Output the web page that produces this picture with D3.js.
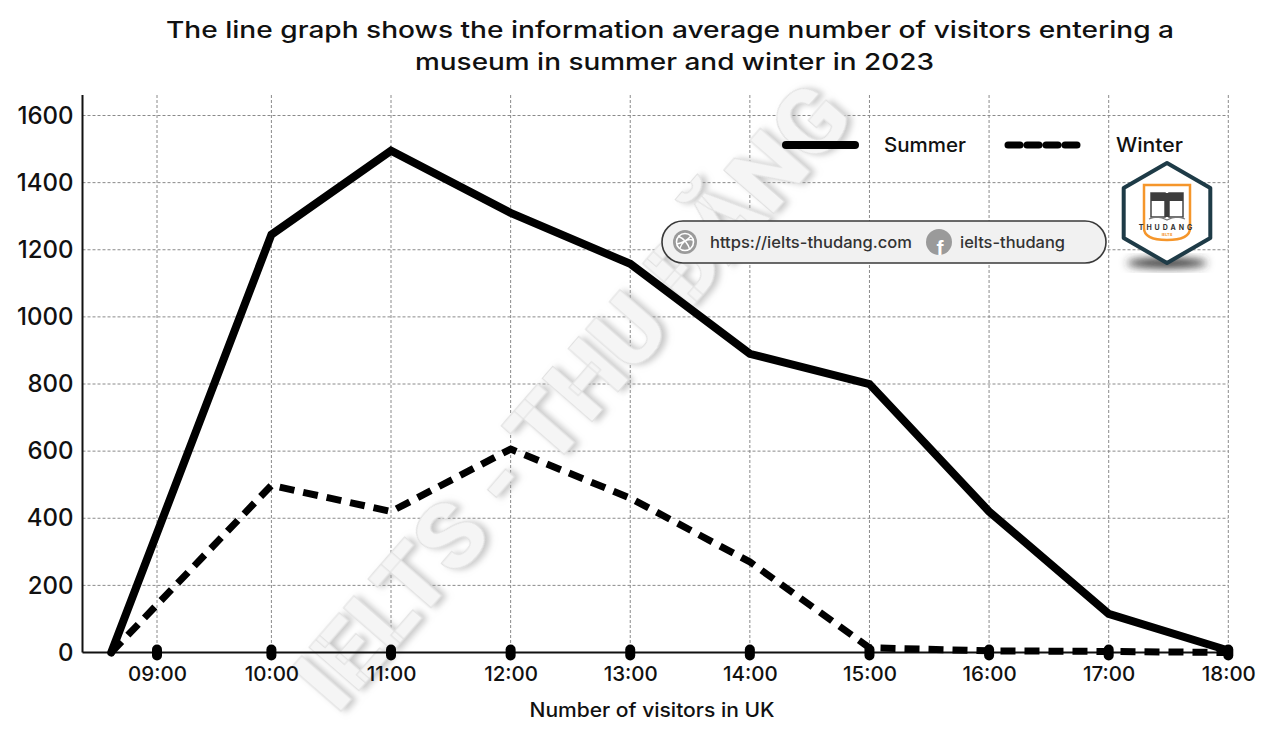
<!DOCTYPE html>
<html>
<head>
<meta charset="utf-8">
<script src="https://cdn.jsdelivr.net/npm/d3@7"></script>
<style>
  html, body { margin: 0; padding: 0; background: #fff; }
  svg { display: block; font-family: "Inter", "Open Sans", sans-serif; }
</style>
</head>
<body>
<svg id="chart" width="1267" height="750"></svg>
<script>
// ---- data ----
const titleLines = [
  "The line graph shows the information average number of visitors entering a",
  "museum in summer and winter in 2023"
];
const hours = [8.6, 10, 11, 12, 13, 14, 15, 16, 17, 18];
const summer = [0, 1245, 1495, 1310, 1158, 890, 800, 420, 115, 6];
const winter = [0, 498, 420, 606, 460, 270, 14, 5, 3, 0];
const tickHours = [9, 10, 11, 12, 13, 14, 15, 16, 17, 18];
const tickLabels = ["09:00", "10:00", "11:00", "12:00", "13:00", "14:00", "15:00", "16:00", "17:00", "18:00"];
const yTicks = [0, 200, 400, 600, 800, 1000, 1200, 1400, 1600];
const seriesNames = ["Summer", "Winter"];
const xTitle = "Number of visitors in UK";
const watermark = "IELTS - THU ĐĂNG";
const siteText = "https://ielts-thudang.com";
const fbText = "ielts-thudang";

// ---- layout ----
const svg = d3.select("#chart");
const x = d3.scaleLinear().domain([9, 10, 18]).range([157, 271.4, 1228.3]);
const y = d3.scaleLinear().domain([0, 1600]).range([652.5, 115.5]);
const plotLeft = 82.5, plotRight = 1228.3, plotTop = 95;

// filters
const defs = svg.append("defs");
const f = defs.append("filter").attr("id", "wm").attr("x", "-20%").attr("y", "-20%").attr("width", "140%").attr("height", "140%");
f.append("feDropShadow").attr("dx", 3).attr("dy", 4).attr("stdDeviation", 3).attr("flood-color", "#9a9a9a").attr("flood-opacity", 0.55);
const f2 = defs.append("filter").attr("id", "lg").attr("x", "-50%").attr("y", "-50%").attr("width", "200%").attr("height", "200%");
f2.append("feGaussianBlur").attr("stdDeviation", 4);

// title
svg.append("g").selectAll("text").data(titleLines).join("text")
  .attr("x", (d, i) => i === 0 ? 670 : 674.5)
  .attr("y", (d, i) => 38 + i * 32)
  .attr("text-anchor", "middle")
  .attr("font-size", 23).attr("font-weight", 500).attr("fill", "#111")
  .attr("textLength", (d, i) => i === 0 ? 1008 : 519)
  .attr("lengthAdjust", "spacingAndGlyphs")
  .text(d => d);

// grid
const grid = svg.append("g");
grid.selectAll("line.h").data(yTicks.filter(v => v > 0)).join("line")
  .attr("x1", plotLeft).attr("x2", plotRight)
  .attr("y1", d => y(d)).attr("y2", d => y(d))
  .attr("stroke", "#8a8a8a").attr("stroke-width", 1).attr("stroke-dasharray", "3,2");
grid.selectAll("line.v").data(tickHours).join("line")
  .attr("x1", d => x(d)).attr("x2", d => x(d))
  .attr("y1", plotTop).attr("y2", y(0))
  .attr("stroke", "#8a8a8a").attr("stroke-width", 1).attr("stroke-dasharray", "3,2");

// watermark
svg.append("text")
  .attr("transform", "translate(578,402) rotate(-49)")
  .attr("text-anchor", "middle").attr("dominant-baseline", "middle")
  .attr("font-family", "Roboto, 'Open Sans', sans-serif")
  .attr("font-size", 92).attr("font-weight", 900)
  .attr("fill", "#f5f5f5").attr("stroke", "#e0e0e0").attr("stroke-width", 1)
  .attr("filter", "url(#wm)")
  .attr("textLength", 790).attr("lengthAdjust", "spacingAndGlyphs")
  .text(watermark);

// axes
svg.append("line").attr("x1", plotLeft).attr("x2", plotLeft).attr("y1", plotTop).attr("y2", y(0))
  .attr("stroke", "#111").attr("stroke-width", 2);
svg.append("line").attr("x1", plotLeft).attr("x2", plotRight).attr("y1", y(0)).attr("y2", y(0))
  .attr("stroke", "#111").attr("stroke-width", 2);

const yAxis = d3.axisLeft(y).tickValues(yTicks).tickSize(0).tickPadding(9).tickFormat(d3.format("d"));
const gy = svg.append("g").attr("transform", `translate(${plotLeft},0)`).call(yAxis);
gy.select(".domain").remove();
gy.selectAll("text").attr("font-size", 24).attr("font-weight", 500).attr("fill", "#111")
  .attr("font-family", "Inter, sans-serif");

const xAxis = d3.axisBottom(x).tickValues(tickHours).tickSize(0).tickPadding(14)
  .tickFormat((d, i) => tickLabels[i]);
const gx = svg.append("g").attr("transform", `translate(0,${y(0)})`).call(xAxis);
gx.select(".domain").remove();
gx.selectAll("text").attr("font-size", 20.5).attr("font-weight", 500).attr("fill", "#111")
  .attr("font-family", "Inter, sans-serif");

// x title
svg.append("text").attr("x", 652).attr("y", 717).attr("text-anchor", "middle")
  .attr("font-size", 19.5).attr("font-weight", 500).attr("fill", "#111")
  .attr("textLength", 245).attr("lengthAdjust", "spacingAndGlyphs").text(xTitle);

// lines
const line = d3.line().x((d, i) => x(hours[i])).y(d => y(d));
svg.append("path").attr("d", line(summer)).attr("fill", "none")
  .attr("stroke", "#000").attr("stroke-width", 8).attr("stroke-linejoin", "miter").attr("stroke-linecap", "round");
svg.append("path").attr("d", line(winter)).attr("fill", "none")
  .attr("stroke", "#000").attr("stroke-width", 7).attr("stroke-dasharray", "15,9").attr("stroke-linejoin", "round");

// tick markers
svg.append("g").selectAll("line").data(tickHours).join("line")
  .attr("x1", d => x(d)).attr("x2", d => x(d))
  .attr("y1", y(0) - 3).attr("y2", y(0) + 3)
  .attr("stroke", "#000").attr("stroke-width", 10).attr("stroke-linecap", "round");

// legend
const lg = svg.append("g");
lg.append("line").attr("x1", 786).attr("x2", 855).attr("y1", 145).attr("y2", 145)
  .attr("stroke", "#000").attr("stroke-width", 8).attr("stroke-linecap", "round");
lg.append("text").attr("x", 884).attr("y", 152).attr("font-size", 20).attr("font-weight", 500).attr("fill", "#111")
  .attr("textLength", 82).attr("lengthAdjust", "spacingAndGlyphs").text(seriesNames[0]);
lg.append("line").attr("x1", 1008).attr("x2", 1080).attr("y1", 145).attr("y2", 145)
  .attr("stroke", "#000").attr("stroke-width", 7).attr("stroke-linecap", "round").attr("stroke-dasharray", "12,7");
lg.append("text").attr("x", 1116).attr("y", 152).attr("font-size", 20).attr("font-weight", 500).attr("fill", "#111")
  .attr("textLength", 67).attr("lengthAdjust", "spacingAndGlyphs").text(seriesNames[1]);

// url pill
const pill = svg.append("g");
pill.append("rect").attr("x", 662).attr("y", 221).attr("width", 444).attr("height", 42).attr("rx", 21)
  .attr("fill", "#f1f1f1").attr("stroke", "#3a3a3a").attr("stroke-width", 1.6);
pill.append("circle").attr("cx", 685).attr("cy", 242).attr("r", 12).attr("fill", "#9a9a9a");
pill.append("circle").attr("cx", 685).attr("cy", 242).attr("r", 8.5).attr("fill", "none").attr("stroke", "#fff").attr("stroke-width", 1.6);
pill.append("path").attr("d", "M678,236 Q687,240 690,250 M680,248 Q684,238 693,240 M677,244 Q686,242 691,236")
  .attr("fill", "none").attr("stroke", "#fff").attr("stroke-width", 1.4);
pill.append("text").attr("x", 710).attr("y", 248).attr("font-size", 16).attr("font-weight", 500).attr("fill", "#333")
  .attr("textLength", 202).attr("lengthAdjust", "spacingAndGlyphs").text(siteText);
pill.append("circle").attr("cx", 939).attr("cy", 242).attr("r", 13).attr("fill", "#9a9a9a");
pill.append("text").attr("x", 940).attr("y", 255).attr("text-anchor", "middle").attr("font-size", 21)
  .attr("font-weight", 700).attr("fill", "#fff").attr("font-family", "Liberation Sans, sans-serif").text("f");
pill.append("text").attr("x", 960).attr("y", 248).attr("font-size", 16).attr("font-weight", 500).attr("fill", "#333")
  .attr("textLength", 105).attr("lengthAdjust", "spacingAndGlyphs").text(fbText);

// logo
const logo = svg.append("g").attr("transform", "translate(1167,213)");
logo.append("ellipse").attr("cx", 0).attr("cy", 50).attr("rx", 40).attr("ry", 5).attr("fill", "#333").attr("filter", "url(#lg)");
const hexPts = d3.range(6).map(k => {
  const a = Math.PI / 180 * (60 * k - 90);
  return [50 * Math.cos(a), 50 * Math.sin(a)];
});
logo.append("path").attr("d", d3.line().curve(d3.curveLinearClosed)(hexPts))
  .attr("fill", "#fff").attr("stroke", "#1e3b47").attr("stroke-width", 4).attr("stroke-linejoin", "round");
logo.append("path").attr("d", "M-23,-28 H23 V15 Q23,27 0,27 Q-23,27 -23,15 Z")
  .attr("fill", "none").attr("stroke", "#f5962b").attr("stroke-width", 2.5);
logo.append("path").attr("d", "M-16,-20 H-2 V4 H-16 Z M2,-20 H16 V4 H2 Z").attr("fill", "#fff").attr("stroke", "#444").attr("stroke-width", 1.5);
logo.append("path").attr("d", "M-16,-20 H16 V-12 H2 V4 H-2 V-12 H-16 Z").attr("fill", "#3d3d3d");
logo.append("path").attr("d", "M-18,6 Q-9,2 0,7 Q9,2 18,6").attr("fill", "none").attr("stroke", "#777").attr("stroke-width", 1.2);
logo.append("text").attr("x", 0).attr("y", 17).attr("text-anchor", "middle").attr("font-size", 7).attr("font-weight", 700)
  .attr("fill", "#333").attr("letter-spacing", 3).text("THUDANG");
logo.append("text").attr("x", 0).attr("y", 23).attr("text-anchor", "middle").attr("font-size", 4).attr("font-weight", 700)
  .attr("fill", "#f5962b").text("IELTS");
</script>
</body>
</html>
